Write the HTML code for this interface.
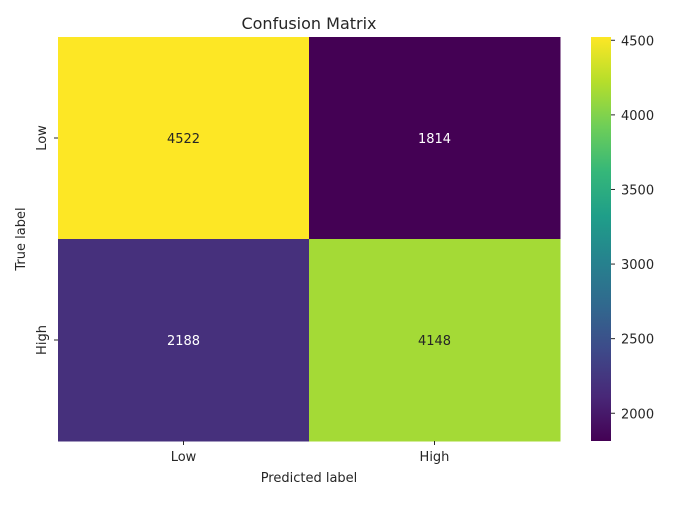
<!DOCTYPE html>
<html><head><meta charset="utf-8"><style>
body{margin:0;background:#fff}
svg text{font-family:"DejaVu Sans","Liberation Sans",sans-serif;fill:#262626}
</style></head><body>
<svg id="c" width="700" height="500"></svg>
<script>
const xCategories=["Low","High"];
const yCategories=["Low","High"];
const row0=[4522,1814];
const row1=[2188,4148];
const cbTicks=[2000,2500,3000,3500,4000,4500];
const values=[row0,row1];
const NS="http://www.w3.org/2000/svg";
const svg=document.getElementById("c");
const L=58,R=560,T=37,B=441;
const all=values.flat();
const vmin=Math.min(...all),vmax=Math.max(...all);
const vir=["#440154","#482878","#3e4989","#31688e","#26828e","#1f9e89","#35b779","#6ece58","#b5de2b","#fde725"];
function hex(h){return [1,3,5].map(i=>parseInt(h.substr(i,2),16));}
function color(t){t=Math.max(0,Math.min(1,t));const p=t*(vir.length-1);const i=Math.min(Math.floor(p),vir.length-2);const f=p-i;const a=hex(vir[i]),b=hex(vir[i+1]);return "rgb("+a.map((v,k)=>Math.round(v+(b[k]-v)*f)).join(",")+")";}
function mk(tag,attrs,txt){const e=document.createElementNS(NS,tag);for(const k in attrs)e.setAttribute(k,attrs[k]);if(txt!==undefined)e.textContent=txt;svg.appendChild(e);return e;}
const cw=(R-L)/xCategories.length,ch=(B-T)/yCategories.length;
values.forEach((row,r)=>row.forEach((v,c)=>{
 const t=(v-vmin)/(vmax-vmin);
 const rc=mk("rect",{x:L+c*cw,y:T+r*ch,width:cw+0.5,height:ch+0.5,fill:color(t)});
 
 
 const tx=mk("text",{x:L+c*cw+cw/2,y:T+r*ch+ch/2+5,"text-anchor":"middle","font-size":"13",style:"fill:"+(t>0.5?"#262626":"#ffffff")},v);
 
 
}));
xCategories.forEach((n,i)=>{
 const x=L+i*cw+cw/2;
 mk("line",{x1:x,x2:x,y1:B,y2:B+4,stroke:"#262626"});
 const t=mk("text",{x:x,y:B+20,"text-anchor":"middle","font-size":"13"},n);
 
 
});
yCategories.forEach((n,i)=>{
 const y=T+i*ch+ch/2;
 mk("line",{x1:L-4,x2:L,y1:y,y2:y,stroke:"#262626"});
 const t=mk("text",{x:0,y:0,"text-anchor":"middle","font-size":"13",transform:"translate("+(L-12)+","+y+") rotate(-90)"},n);
 
 
});
const CL=591,CR=611,CT=37,CB=441;
const defs=mk("defs",{});
const g=document.createElementNS(NS,"linearGradient");g.setAttribute("id","vg");g.setAttribute("x1","0");g.setAttribute("y1","1");g.setAttribute("x2","0");g.setAttribute("y2","0");
vir.forEach((c,i)=>{const s=document.createElementNS(NS,"stop");s.setAttribute("offset",i/(vir.length-1));s.setAttribute("stop-color",c);g.appendChild(s);});
defs.appendChild(g);
const cb=mk("rect",{x:CL,y:CT,width:CR-CL,height:CB-CT,fill:"url(#vg)"});


function cy(v){return CB-(v-vmin)/(vmax-vmin)*(CB-CT);}
cbTicks.forEach(v=>{
 const y=cy(v);
 mk("line",{x1:CR,x2:CR+4,y1:y,y2:y,stroke:"#262626"});
 const t=mk("text",{x:CR+10,y:y+5,"font-size":"13"},v);
 
 
});
const ti=mk("text",{x:(L+R)/2,y:29,"text-anchor":"middle","font-size":"16"},"Confusion Matrix");


const xl=mk("text",{x:(L+R)/2,y:482,"text-anchor":"middle","font-size":"13"},"Predicted label");


const yl=mk("text",{x:0,y:0,"text-anchor":"middle","font-size":"13",transform:"translate(25,"+((T+B)/2)+") rotate(-90)"},"True label");


</script>
</body></html>
